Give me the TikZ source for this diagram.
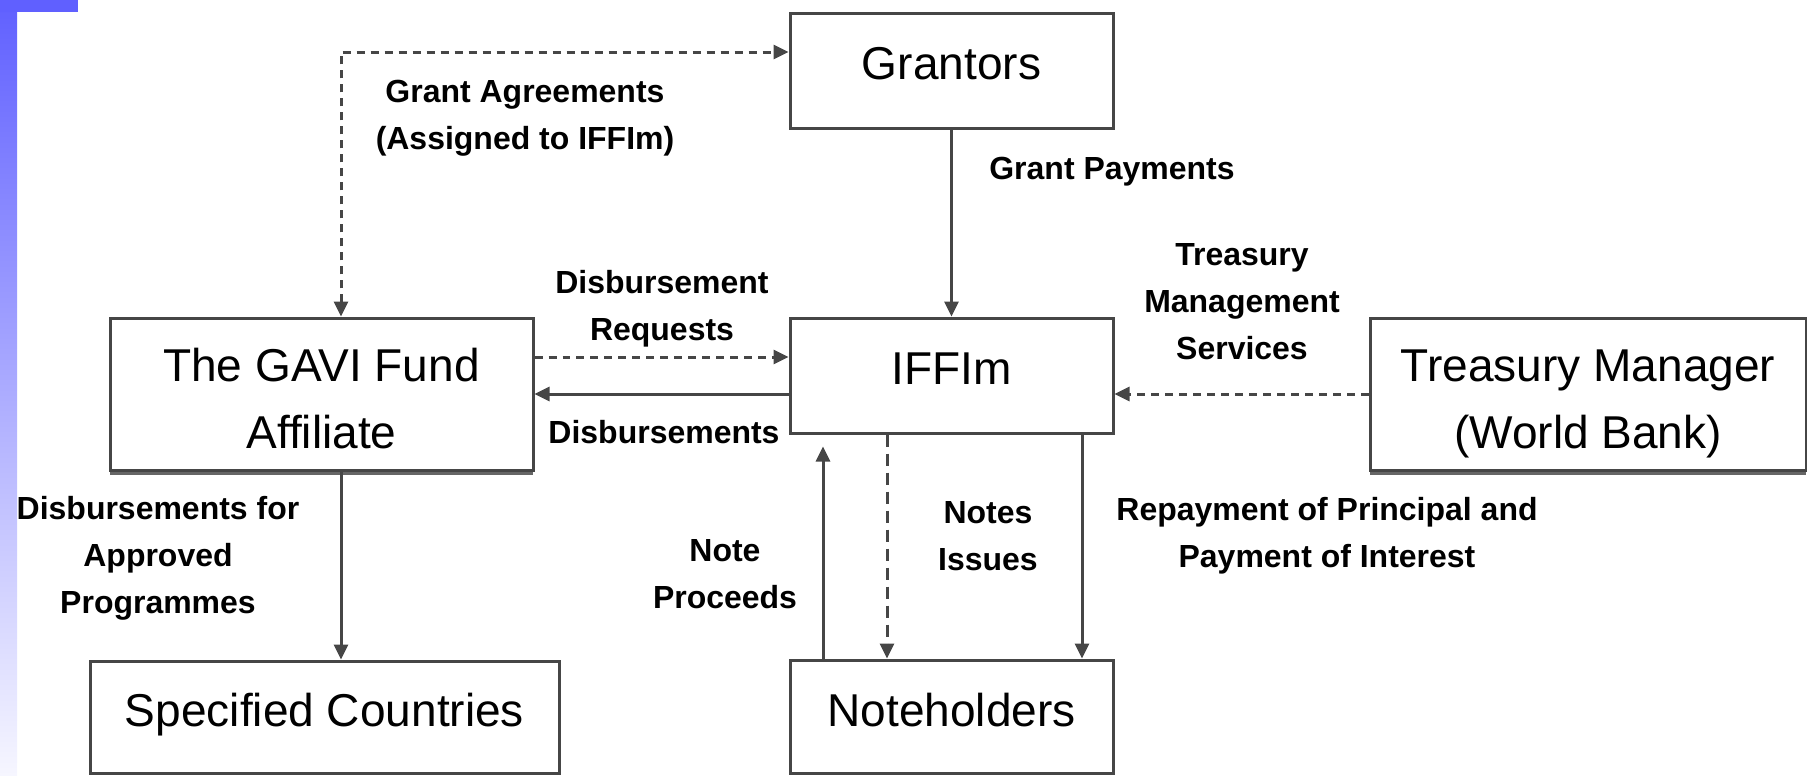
\documentclass[tikz,border=0pt]{standalone}
\usepackage{fontspec}
\setmainfont{Liberation Sans}
\usepackage{xcolor}
\usetikzlibrary{arrows.meta,shadows}

\definecolor{barblue}{RGB}{96,96,255}
\definecolor{barpale}{RGB}{246,246,255}
\definecolor{edgegray}{RGB}{70,70,70}

\begin{document}
\begin{tikzpicture}[x=0.1mm, y=-0.1mm,
    >={Triangle[width=1.4mm, length=1.5mm]},
    box/.style={draw=edgegray, line width=0.3mm, fill=white, align=center,
        font=\fontsize{13.1}{19}\selectfont},
    shadowed/.style={drop shadow={shadow xshift=0mm, shadow yshift=-0.5mm,
        fill=black!60, opacity=1}, text height=10.9mm, text depth=0pt},
    lbl/.style={font=\bfseries\fontsize{9.1}{13.4}\selectfont, align=center, inner sep=0pt},
    flow/.style={->, draw=edgegray, line width=0.3mm},
    dflow/.style={flow, dash pattern=on 0.8mm off 0.6mm}]
    \useasboundingbox (0,0) rectangle (1807,775);

    % Slide bar at the left
    \shade[top color=barblue, bottom color=barpale] (0,0) rectangle (17,775);
    \fill[barblue] (0,0) rectangle (78,12);

    % Boxes
    \node[box, minimum width=32.3mm, minimum height=11.5mm, text depth=1.4mm] (grantors) at (951.5,70.5) {Grantors};
    \node[box, shadowed, minimum width=42.3mm, minimum height=15.2mm] (gavi) at (321.5,394) {The GAVI Fund\\Affiliate};
    \node[box, minimum width=32.3mm, minimum height=11.5mm, text depth=1.4mm] (iffim) at (951.5,375.5) {IFFIm};
    \node[box, shadowed, minimum width=43.6mm, minimum height=15.2mm] (treasury) at (1588,394) {Treasury Manager\\(World Bank)};
    \node[box, minimum width=46.9mm, minimum height=11.2mm, text depth=1.4mm] (countries) at (324.5,717) {Specified Countries};
    \node[box, minimum width=32.3mm, minimum height=11.3mm, text depth=1.4mm] (noteholders) at (951.5,716.5) {Noteholders};

    % Labels
    \node[lbl] (agreelbl) at (525,118) {Grant Agreements\\(Assigned to IFFIm)};
    \node[lbl] (paylbl) at (1112,172) {Grant Payments};
    \node[lbl] (requestlbl) at (662,309) {Disbursement\\Requests};
    \node[lbl] (disblbl) at (664,432) {Disbursements};
    \node[lbl] (serviceslbl) at (1242,302) {Treasury\\Management\\Services};
    \node[lbl] (programmelbl) at (158,558) {Disbursements for\\Approved\\Programmes};
    \node[lbl] (proceedslbl) at (725,574) {Note\\Proceeds};
    \node[lbl] (issueslbl) at (988,536) {Notes\\Issues};
    \node[lbl] (repaylbl) at (1327,536) {Repayment of Principal and\\Payment of Interest};

    % Grant agreements
    \coordinate (agreecorner) at (341,52);
    \draw[dflow, <->] (agreecorner |- gavi.north) -- (agreecorner) -- (agreecorner -| grantors.west);

    % Grant payments
    \draw[flow] (grantors.south) -- (iffim.north);

    % Requests and disbursements
    \coordinate (requesty) at (0,357);
    \draw[dflow] (gavi.east |- requesty) -- (iffim.west |- requesty);
    \draw[flow] (iffim.west |- gavi.east) -- (gavi.east);

    % Treasury management
    \draw[dflow] (treasury.west) -- (iffim.east |- treasury.west);

    % Programmes
    \draw[flow] (agreecorner |- gavi.south) -- (agreecorner |- countries.north);

    % Notes
    \coordinate (proceedsx) at (823,0);
    \coordinate (issuesx) at (887,0);
    \coordinate (repayx) at (1082,0);
    \draw[flow, shorten >=1.2mm] (proceedsx |- noteholders.north) -- (proceedsx |- iffim.south);
    \draw[dflow, dash pattern=on 1.2mm off 0.7mm] (issuesx |- iffim.south) -- (issuesx |- noteholders.north);
    \draw[flow] (repayx |- iffim.south) -- (repayx |- noteholders.north);
\end{tikzpicture}
\end{document}
